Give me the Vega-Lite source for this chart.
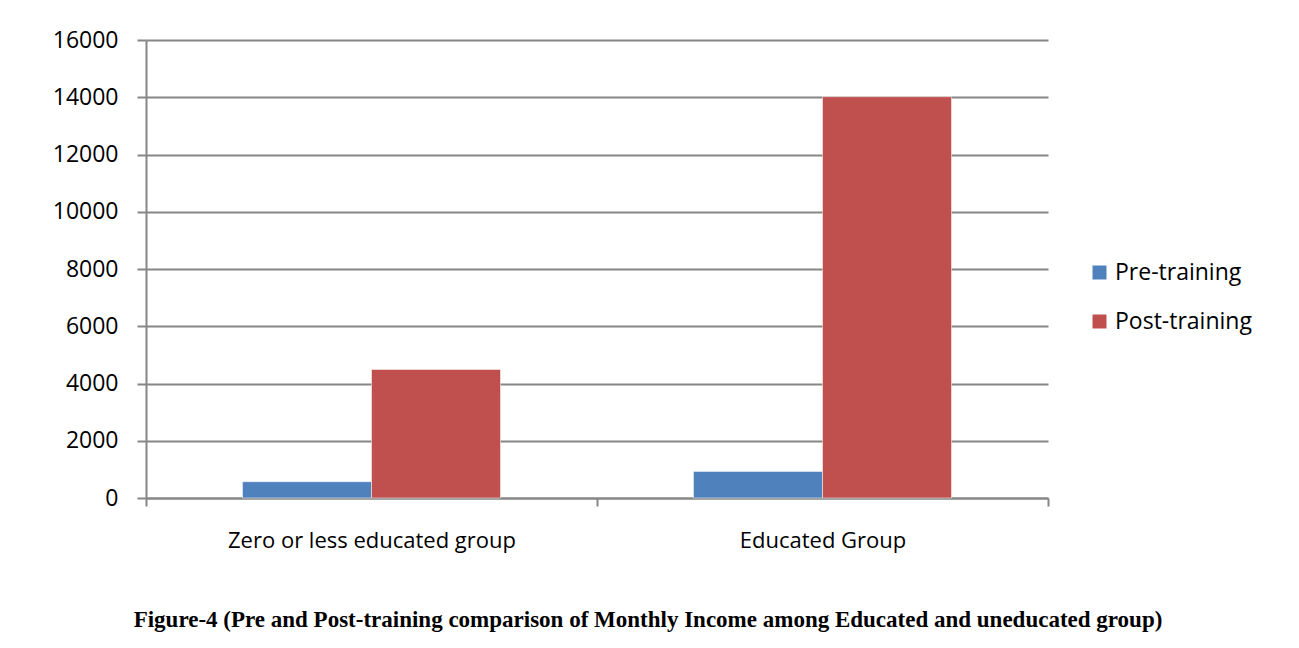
{
  "$schema": "https://vega.github.io/schema/vega-lite/v6.json",
  "width": 902,
  "height": 458,
  "autosize": {"type": "none"},
  "padding": {"left": 146, "top": 40, "right": 251, "bottom": 150},
  "background": "white",
  "title": {
    "text": "Figure-4 (Pre and Post-training comparison of Monthly Income among Educated and uneducated group)",
    "orient": "bottom",
    "anchor": "middle",
    "font": "Liberation Serif",
    "fontWeight": "bold",
    "fontSize": 23,
    "color": "black",
    "offset": 58,
    "dx": 51
  },
  "data": {
    "values": [
      {"group": "Zero or less educated group", "period": "Pre-training", "income": 570},
      {"group": "Zero or less educated group", "period": "Post-training", "income": 4490},
      {"group": "Educated Group", "period": "Pre-training", "income": 930},
      {"group": "Educated Group", "period": "Post-training", "income": 14020}
    ]
  },
  "mark": {"type": "bar", "stroke": "white", "strokeWidth": 0.5},
  "encoding": {
    "x": {
      "field": "group",
      "type": "nominal",
      "sort": ["Zero or less educated group", "Educated Group"],
      "scale": {"paddingInner": 0, "paddingOuter": 0},
      "axis": {
        "title": null,
        "labelAngle": 0,
        "labelFont": "Open Sans",
        "labelFontSize": 22,
        "labelColor": "black",
        "labelPadding": 24,
        "labelLimit": 0,
        "tickBand": "extent",
        "tickSize": 8,
        "tickColor": "#868686",
        "tickWidth": 2,
        "domainColor": "#868686",
        "domainWidth": 2
      }
    },
    "xOffset": {
      "field": "period",
      "type": "nominal",
      "sort": ["Pre-training", "Post-training"],
      "scale": {"paddingInner": 0, "paddingOuter": 0.748}
    },
    "y": {
      "field": "income",
      "type": "quantitative",
      "scale": {"domain": [0, 16000], "nice": false},
      "axis": {
        "title": null,
        "values": [0, 2000, 4000, 6000, 8000, 10000, 12000, 14000, 16000],
        "format": "d",
        "labelFont": "Open Sans",
        "labelFontSize": 23,
        "labelColor": "black",
        "labelPadding": 19,
        "tickSize": 9,
        "tickColor": "#868686",
        "tickWidth": 2,
        "domainColor": "#868686",
        "domainWidth": 2,
        "grid": true,
        "gridColor": "#868686",
        "gridWidth": 2
      }
    },
    "color": {
      "field": "period",
      "type": "nominal",
      "sort": ["Pre-training", "Post-training"],
      "scale": {"domain": ["Pre-training", "Post-training"], "range": ["#4F81BD", "#C0504D"]},
      "legend": {
        "title": null,
        "orient": "none",
        "legendX": 942,
        "legendY": 221,
        "symbolType": "square",
        "symbolSize": 196,
        "symbolStrokeWidth": 0,
        "symbolOpacity": 1,
        "labelFont": "Open Sans",
        "labelFontSize": 23,
        "labelColor": "black",
        "labelOffset": 4,
        "rowPadding": 25
      }
    }
  },
  "config": {
    "view": {"stroke": null}
  }
}
